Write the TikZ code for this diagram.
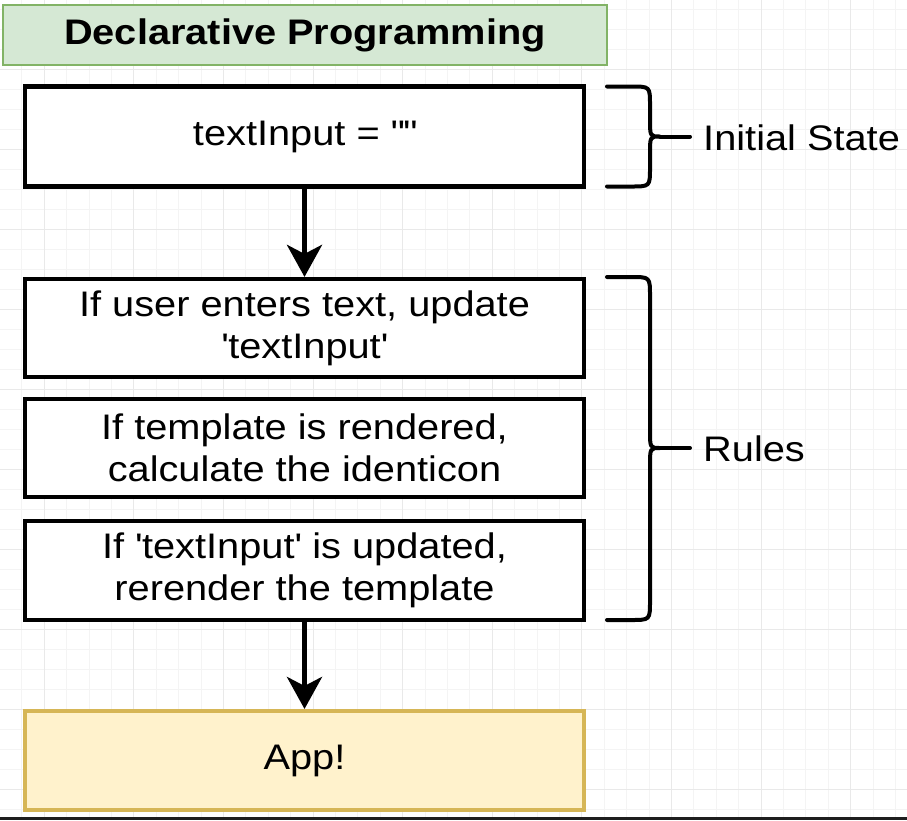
\documentclass[tikz,border=0pt]{standalone}
\usepackage{fontspec}
\setmainfont{Liberation Sans}[FakeStretch=1.12]
\usetikzlibrary{arrows.meta}

\definecolor{titlefill}{HTML}{D5E8D4}
\definecolor{titleline}{HTML}{82B366}
\definecolor{appfill}{HTML}{FFF2CC}
\definecolor{appline}{HTML}{D6B656}
\definecolor{gridmin}{HTML}{F4F4F4}
\definecolor{gridmaj}{HTML}{E9E9E9}
\definecolor{band}{HTML}{1E1E1E}

\newcommand{\dq}{\textquotedbl}
\newcommand{\sq}{\textquotesingle}

\tikzset{
  labelfont/.style={font=\fontsize{35.5}{42}\selectfont},
  titlebox/.style={draw=titleline, fill=titlefill, line width=1.6pt,
    minimum width=604pt, minimum height=60pt, inner sep=0pt,
    font=\fontsize{35.5}{40}\selectfont\bfseries},
  stepbox/.style={draw=black, fill=white, line width=4.2pt,
    minimum width=559pt, inner sep=0pt, align=center, labelfont},
  appbox/.style={stepbox, draw=appline, fill=appfill, line width=3.6pt},
  flow/.style={line width=5pt, -{Stealth[length=32pt, width=35pt, inset=9pt]}},
  bracepath/.style={line width=4pt, line cap=round, line join=round},
  sidelabel/.style={labelfont, anchor=west, inner sep=0pt},
}

\begin{document}
\begin{tikzpicture}[x=1pt, y=-1pt]
  \useasboundingbox (0,0) rectangle (907,820);
  \fill[white] (0,0) rectangle (907,820);

  % background grid: fine lines, then every fourth line a bit darker
  \foreach \i in {0,...,41} \draw[gridmin, line width=0.8pt] ({-0.6+22.4*\i},0) -- ++(0,820);
  \foreach \j in {0,...,41} \draw[gridmin, line width=0.8pt] (0,{9.3+20*\j}) -- ++(907,0);
  \foreach \i in {0,...,9} \draw[gridmaj, line width=1pt] ({44.2+89.6*\i},0) -- ++(0,820);
  \foreach \j in {0,...,9} \draw[gridmaj, line width=1pt] (0,{69.3+80*\j}) -- ++(907,0);

  % title
  \node[titlebox] (title) at (305,35) {Declarative Programming};

  % state, rules and result
  \node[stepbox, minimum height=100pt] (init) at (304.5,136.5) {\raisebox{-2pt}{textInput = \dq\dq}};
  \node[stepbox, minimum height=98pt] (ruleA) at (304.5,328) {If user enters text, update\\\sq textInput\sq};
  \node[stepbox, minimum height=98pt] (ruleB) at (304.5,448) {If template is rendered,\\calculate the identicon};
  \node[stepbox, minimum height=99pt] (ruleC) at (304.5,570.5) {If \sq textInput\sq{} is updated,\\rerender the template};
  \node[appbox, minimum height=99.5pt] (app) at (304.5,760.5) {App!};

  \draw[flow] (init.south) -- (ruleA.north);
  \draw[flow] (ruleC.south) -- (app.north);

  % brace around the initial state
  \coordinate (tipA) at (660,136.5);
  \draw[bracepath] (607,86.5) -- (631,86.5)
    .. controls (650,86.5) .. (650,105) -- (650,119)
    .. controls (650,136.5) .. (tipA)
    .. controls (650,136.5) .. (650,154) -- (650,168)
    .. controls (650,186.5) .. (631,186.5) -- (607,186.5);
  \node[sidelabel] (lblA) at (703,138) {Initial State};
  \draw[bracepath] (tipA) -- ([xshift=-13pt]lblA.west |- tipA);

  % brace around the rules
  \coordinate (tipB) at (660,448);
  \draw[bracepath] (607,277) -- (631,277)
    .. controls (650,277) .. (650,296) -- (650,430)
    .. controls (650,448) .. (tipB)
    .. controls (650,448) .. (650,466) -- (650,601)
    .. controls (650,620) .. (631,620) -- (607,620);
  \node[sidelabel] (lblB) at (703,449) {Rules};
  \draw[bracepath] (tipB) -- ([xshift=-13pt]lblB.west |- tipB);

  % dark strip along the lower edge
  \fill[band] (0,816.5) rectangle (907,820);
\end{tikzpicture}
\end{document}
